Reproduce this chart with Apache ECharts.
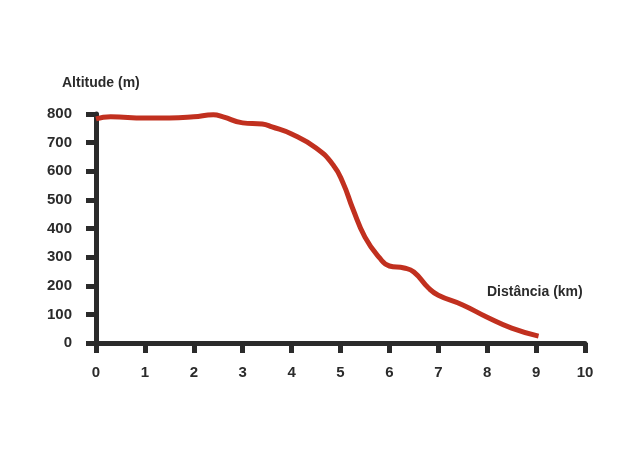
<!DOCTYPE html>
<html>
<head>
<meta charset="utf-8">
<script src="https://cdn.jsdelivr.net/npm/echarts@6/dist/echarts.min.js"></script>
<style>
  html, body { margin: 0; padding: 0; background: #fff; }
  #chart { width: 640px; height: 453px; }
</style>
</head>
<body>
<div id="chart"></div>
<script>
// distance (km) and altitude (m)
const distanceKm = [0, 0.3, 1, 1.5, 2, 2.4, 2.6, 3, 3.4, 3.6, 4, 4.5, 4.85, 5.05, 5.25, 5.5, 5.8, 6, 6.3, 6.5, 6.8, 7, 7.5, 8, 8.5, 9.05];
const altitudeM = [783, 790, 786, 786, 790, 797, 790, 769, 765, 755, 730, 681, 622, 560, 470, 370, 297, 269, 262, 248, 192, 167, 133, 90, 52, 24];

const yTitle = "Altitude (m)";
const xTitle = "Distância (km)";

const chart = echarts.init(document.getElementById("chart"));

const axisColor = "#2b2b2b";
const fontFamily = "'Liberation Sans', Arial, sans-serif";

chart.setOption({
  animation: false,
  backgroundColor: "#fff",
  title: [
    {
      text: yTitle,
      left: 57,
      top: 71,
      textStyle: { fontFamily, fontSize: 14, fontWeight: "bold", color: axisColor },
    },
    {
      text: xTitle,
      left: 482,
      top: 280,
      textStyle: { fontFamily, fontSize: 14, fontWeight: "bold", color: axisColor },
    },
  ],
  grid: { left: 96, right: 55, top: 114, bottom: 110 },
  xAxis: {
    type: "value",
    min: 0,
    max: 10,
    interval: 1,
    axisLine: { show: true, lineStyle: { color: axisColor, width: 5 } },
    axisTick: { show: true, length: 10, lineStyle: { color: axisColor, width: 5 } },
    splitLine: { show: false },
    axisLabel: { margin: 22, fontFamily, fontSize: 15, fontWeight: "bold", color: axisColor },
  },
  yAxis: {
    type: "value",
    min: 0,
    max: 800,
    interval: 100,
    axisLine: { show: true, lineStyle: { color: axisColor, width: 5 } },
    axisTick: { show: true, length: 10, lineStyle: { color: axisColor, width: 5 } },
    splitLine: { show: false },
    axisLabel: { margin: 24, fontFamily, fontSize: 15, fontWeight: "bold", color: axisColor },
  },
  series: [
    {
      type: "line",
      data: distanceKm.map((d, i) => [d, altitudeM[i]]),
      smooth: 0.5,
      showSymbol: false,
      lineStyle: { color: "#c1301f", width: 5 },
      z: 1,
    },
  ],
});
</script>
</body>
</html>
